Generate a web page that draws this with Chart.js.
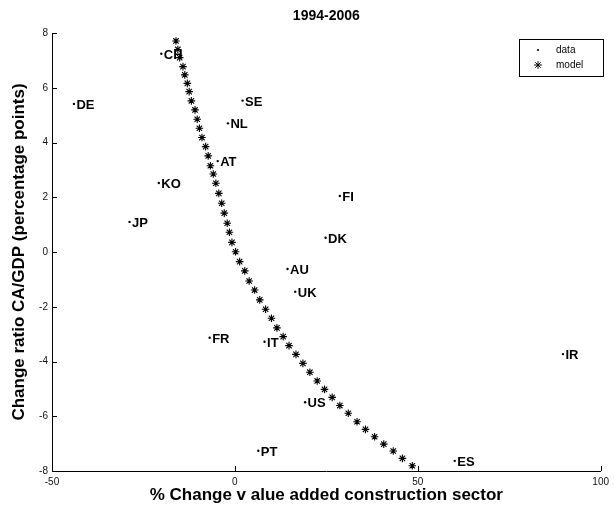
<!DOCTYPE html>
<html>
<head>
<meta charset="utf-8">
<script src="https://cdn.jsdelivr.net/npm/chart.js@4.4.1/dist/chart.umd.min.js"></script>
<style>
  html, body { margin: 0; padding: 0; background: #fff; }
</style>
</head>
<body>
<canvas id="myChart" width="614" height="514"></canvas>
<script>
var countries = ['CH', 'DE', 'SE', 'NL', 'AT', 'KO', 'JP', 'FI', 'DK', 'AU', 'UK', 'FR', 'IT', 'IR', 'US', 'PT', 'ES'];
var dataX = [-20.1, -44.0, 2.1, -1.9, -4.7, -20.8, -28.8, 28.7, 24.8, 14.4, 16.5, -6.9, 8.1, 89.7, 19.2, 6.4, 60.1];
var dataY = [7.24, 5.41, 5.53, 4.70, 3.32, 2.52, 1.10, 2.05, 0.52, -0.62, -1.45, -3.13, -3.28, -3.73, -5.49, -7.26, -7.63];

var modelX = [-16.1, -15.6, -15.1, -14.2, -13.7, -13.0, -12.5, -11.9, -10.9, -10.3,
  -9.7, -9.0, -8.0, -7.3, -6.7, -5.9, -5.2, -4.4, -3.6, -2.9,
  -2.1, -1.5, -0.8, 0.2, 1.3, 2.7, 3.9, 5.4, 6.8, 8.4,
  10.0, 11.5, 13.2, 14.8, 16.7, 18.6, 20.5, 22.5, 24.5, 26.6,
  28.7, 31.0, 33.4, 35.7, 38.2, 40.7, 43.3, 45.8, 48.5];
var modelY = [7.71, 7.40, 7.10, 6.77, 6.47, 6.16, 5.86, 5.52, 5.19, 4.85,
  4.52, 4.18, 3.85, 3.51, 3.15, 2.85, 2.51, 2.14, 1.78, 1.42,
  1.05, 0.72, 0.35, 0.01, -0.35, -0.69, -1.06, -1.39, -1.75, -2.09,
  -2.42, -2.77, -3.09, -3.42, -3.74, -4.07, -4.39, -4.71, -5.02, -5.31,
  -5.61, -5.89, -6.20, -6.48, -6.75, -7.02, -7.27, -7.54, -7.81];

var xTicks = [-50, 0, 50, 100];
var yTicks = [-8, -6, -4, -2, 0, 2, 4, 6, 8];

var FONT = '"Liberation Sans", Arial, Helvetica, sans-serif';

// ticks inside the axes, country labels and the boxed legend
var extras = {
  id: 'extras',
  afterDatasetsDraw: function(chart) {
    var ctx = chart.ctx;
    var xs = chart.scales.x, ys = chart.scales.y, area = chart.chartArea;
    ctx.save();
    ctx.strokeStyle = '#000';
    ctx.lineWidth = 1;
    ctx.beginPath();
    xTicks.forEach(function(v) {
      var px = Math.round(xs.getPixelForValue(v)) + 0.5;
      ctx.moveTo(px, area.bottom);
      ctx.lineTo(px, area.bottom - 5);
    });
    yTicks.forEach(function(v) {
      var py = Math.round(ys.getPixelForValue(v)) + 0.5;
      ctx.moveTo(area.left, py);
      ctx.lineTo(area.left + 5, py);
    });
    ctx.stroke();

    ctx.fillStyle = '#000';
    ctx.font = 'bold 13px ' + FONT;
    ctx.textBaseline = 'alphabetic';
    var meta = chart.getDatasetMeta(0);
    meta.data.forEach(function(pt, i) {
      ctx.fillText(countries[i], pt.x + 2.5, pt.y + 5);
    });

    // legend
    var bx = 519.5, by = 39.5, bw = 84, bh = 37;
    ctx.fillStyle = '#fff';
    ctx.fillRect(bx, by, bw, bh);
    ctx.strokeRect(bx, by, bw, bh);
    ctx.fillStyle = '#000';
    ctx.strokeStyle = '#000';
    Chart.helpers.drawPoint(ctx, {pointStyle: 'circle', radius: 1.1, borderWidth: 0}, 538, 50);
    Chart.helpers.drawPoint(ctx, {pointStyle: 'star', radius: 3.8, borderWidth: 1.1}, 538, 65);
    ctx.font = '10px ' + FONT;
    ctx.textBaseline = 'middle';
    ctx.fillText('data', 556, 50);
    ctx.fillText('model', 556, 65);
    ctx.restore();
  }
};

var tickFont = {family: FONT, size: 10};
var titleFont = {family: FONT, size: 17, weight: 'bold'};

new Chart(document.getElementById('myChart'), {
  type: 'scatter',
  data: {
    datasets: [{
      label: 'data',
      data: dataX.map(function(x, i) { return {x: x, y: dataY[i]}; }),
      pointRadius: 1.2,
      pointHoverRadius: 1.2,
      backgroundColor: '#000',
      borderColor: '#000',
      borderWidth: 0
    }, {
      label: 'model',
      data: modelX.map(function(x, i) { return {x: x, y: modelY[i]}; }),
      pointStyle: 'star',
      pointRadius: 3.8,
      pointHoverRadius: 3.8,
      backgroundColor: '#000',
      borderColor: '#000',
      borderWidth: 1.1
    }]
  },
  options: {
    responsive: false,
    animation: false,
    devicePixelRatio: 1,
    layout: {padding: {left: 0, right: 9, top: 0, bottom: 0}},
    plugins: {
      legend: {display: false},
      tooltip: {enabled: false},
      title: {
        display: true,
        text: '1994-2006',
        fullSize: false,
        color: '#000',
        font: {family: FONT, size: 14, weight: 'bold'},
        padding: {top: 8, bottom: 8.2}
      }
    },
    scales: {
      x: {
        type: 'linear',
        min: -50,
        max: 100,
        afterBuildTicks: function(s) { s.ticks = xTicks.map(function(v) { return {value: v}; }); },
        afterFit: function(s) { s.height = 43; },
        grid: {display: false, drawTicks: false},
        border: {display: true, color: '#000', width: 1},
        ticks: {color: '#111', padding: 5, font: tickFont},
        title: {display: true, text: '% Change v alue added construction sector', color: '#000', font: titleFont, padding: {top: 0, bottom: 8}}
      },
      y: {
        type: 'linear',
        min: -8,
        max: 8,
        afterBuildTicks: function(s) { s.ticks = yTicks.map(function(v) { return {value: v}; }); },
        afterFit: function(s) { s.width = 52; },
        grid: {display: false, drawTicks: false},
        border: {display: true, color: '#000', width: 1},
        ticks: {color: '#111', padding: 4, font: tickFont},
        title: {display: true, text: 'Change ratio CA/GDP (percentage points)', color: '#000', font: titleFont, padding: {top: 9, bottom: 0}}
      }
    }
  },
  plugins: [extras]
});
</script>
</body>
</html>
